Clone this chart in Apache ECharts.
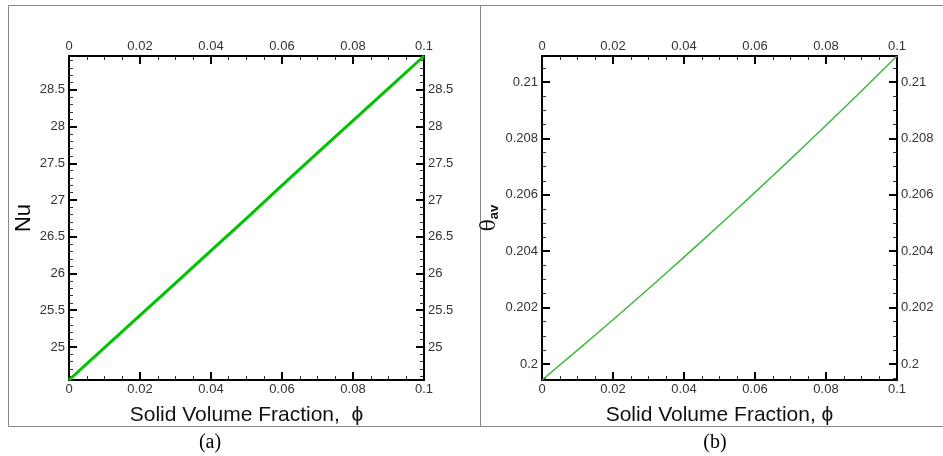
<!DOCTYPE html>
<html>
<head>
<meta charset="utf-8">
<script src="https://cdn.jsdelivr.net/npm/echarts@6/dist/echarts.min.js"></script>
<style>
html,body{margin:0;padding:0;background:#fff;}
#c{width:943px;height:456px;}
</style>
</head>
<body>
<div id="c"></div>
<script>
// Data
var phi = [0, 0.01, 0.02, 0.03, 0.04, 0.05, 0.06, 0.07, 0.08, 0.09, 0.1];
var nu = [24.55, 24.99, 25.43, 25.87, 26.31, 26.75, 27.20, 27.64, 28.08, 28.52, 28.96];
var thetaAv = [0.19943, 0.20049, 0.20157, 0.20267, 0.20379, 0.20493, 0.20609, 0.20727, 0.20847, 0.20969, 0.21093];
var xTitle = 'Solid Volume Fraction,  \u03D5';
var xTitleB = 'Solid Volume Fraction, \u03D5';
var panelLabels = ['(a)', '(b)'];

var FONT = '"Liberation Sans", Arial, sans-serif';
var chart = echarts.init(document.getElementById('c'));

function xAx(grid, pos, name) {
  return {
    type: 'value', gridIndex: grid, position: pos, min: 0, max: 0.1,
    splitNumber: 5,
    name: name || '', nameLocation: 'middle', nameGap: 25,
    nameTextStyle: {fontFamily: FONT, fontSize: 21, color: '#111', verticalAlign: 'top'},
    axisLine: {show: true, onZero: false, lineStyle: {color: '#000', width: 2}},
    axisTick: {show: true, inside: true, length: 8, lineStyle: {color: '#000', width: 2}},
    minorTick: {show: true, splitNumber: 4, length: 4, lineStyle: {color: '#333', width: 1}},
    axisLabel: {fontFamily: FONT, fontSize: 13, color: '#333', margin: 3},
    splitLine: {show: false}
  };
}
function yAx(grid, pos, min, max, split, minor, name, nameStyle, gap) {
  var a = {
    type: 'value', gridIndex: grid, position: pos, min: min, max: max,
    splitNumber: split,
    axisLine: {show: true, onZero: false, lineStyle: {color: '#000', width: 2}},
    axisTick: {show: true, inside: true, length: 8, lineStyle: {color: '#000', width: 2}},
    minorTick: {show: true, splitNumber: minor, length: 4, lineStyle: {color: '#333', width: 1}},
    axisLabel: {fontFamily: FONT, fontSize: 13, color: '#333', margin: 4, showMinLabel: false, showMaxLabel: false},
    splitLine: {show: false}
  };
  if (name) {
    a.name = name; a.nameLocation = 'middle'; a.nameGap = gap;
    a.nameTextStyle = nameStyle;
  }
  return a;
}

var option = {
  animation: false,
  backgroundColor: '#fff',
  grid: [
    {left: 69, top: 56, width: 355, height: 324},
    {left: 542, top: 56, width: 355, height: 324}
  ],
  xAxis: [
    xAx(0, 'bottom', xTitle), xAx(0, 'top'),
    xAx(1, 'bottom', xTitleB), xAx(1, 'top')
  ],
  yAxis: [
    yAx(0, 'left', 24.55, 28.96, 9, 5, 'Nu', {fontFamily: FONT, fontSize: 22, color: '#000', fontWeight: 'normal'}, 34),
    yAx(0, 'right', 24.55, 28.96, 9, 5),
    yAx(1, 'left', 0.19943, 0.21093, 6, 4, '{t|\u03B8}{s|av}', {
      rich: {
        t: {fontFamily: '"DejaVu Serif", serif', fontSize: 20, color: '#111'},
        s: {fontFamily: FONT, fontSize: 13, fontWeight: 'bold', color: '#111', verticalAlign: 'top', padding: [10, 0, 0, 0]}
      }
    }, 41),
    yAx(1, 'right', 0.19943, 0.21093, 6, 4)
  ],
  series: [
    {type: 'line', xAxisIndex: 0, yAxisIndex: 0, showSymbol: false,
     data: phi.map(function (p, i) { return [p, nu[i]]; }),
     lineStyle: {color: '#00c400', width: 3}},
    {type: 'line', xAxisIndex: 2, yAxisIndex: 2, showSymbol: false, smooth: true,
     data: phi.map(function (p, i) { return [p, thetaAv[i]]; }),
     lineStyle: {color: '#3cb83c', width: 1.5}}
  ],
  graphic: [
    {type: 'rect', shape: {x: 8.5, y: 5.5, width: 472, height: 421}, style: {fill: 'none', stroke: '#888', lineWidth: 1}, silent: true},
    {type: 'rect', shape: {x: 480.5, y: 5.5, width: 470, height: 421}, style: {fill: 'none', stroke: '#888', lineWidth: 1}, silent: true},
    {type: 'text', x: 210, y: 443, style: {text: panelLabels[0], font: '20px "Liberation Serif", serif', fill: '#000', textAlign: 'center', textVerticalAlign: 'middle'}},
    {type: 'text', x: 715, y: 443, style: {text: panelLabels[1], font: '20px "Liberation Serif", serif', fill: '#000', textAlign: 'center', textVerticalAlign: 'middle'}}
  ]
};
chart.setOption(option);
</script>
</body>
</html>
